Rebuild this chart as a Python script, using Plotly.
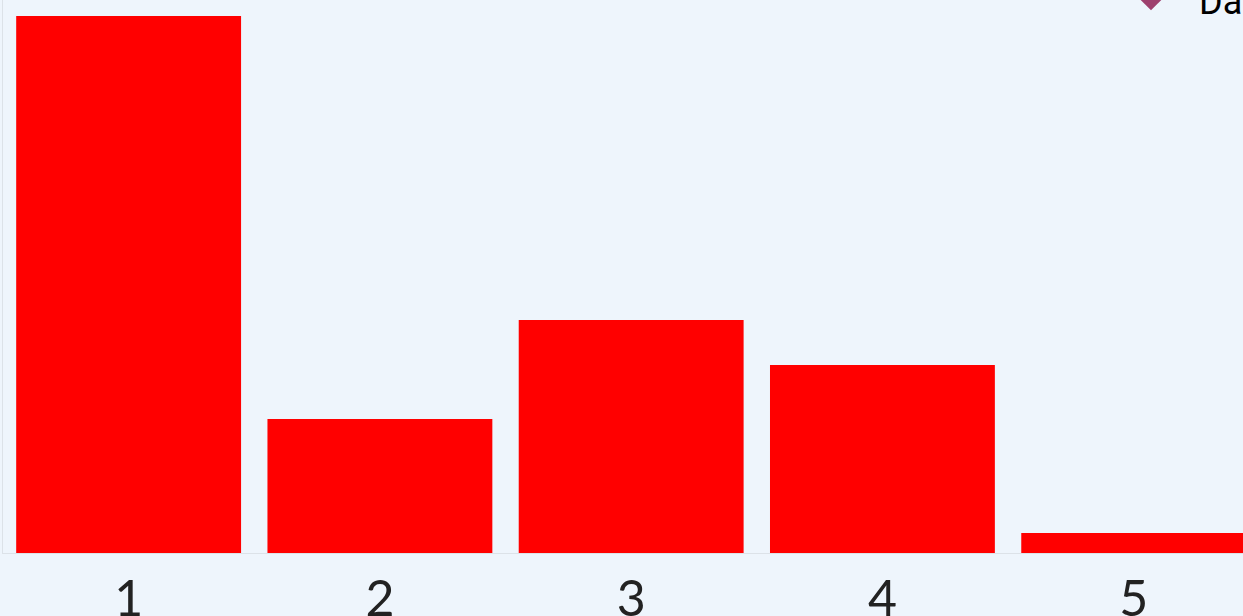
import plotly.graph_objects as go

categories = [1, 2, 3, 4, 5]
values = [53.7, 13.4, 23.3, 18.8, 2.0]
legend_name = "Data"

W, H = 1243, 616
ML, MR, MT, MB = 3, 0, 0, 63

fig = go.Figure()
fig.add_trace(go.Bar(x=categories, y=values, marker=dict(color="#FF0000", line=dict(width=0)),
                     showlegend=False))
fig.add_trace(go.Scatter(x=[None], y=[None], mode="markers", name=legend_name,
                         marker=dict(symbol="diamond", size=18, color="#9E406E"),
                         showlegend=True))

fig.update_layout(
    width=W, height=H,
    margin=dict(l=ML, r=MR, t=MT, b=MB, autoexpand=False),
    paper_bgcolor="#EEF5FC", plot_bgcolor="#EEF5FC",
    bargap=0.105,
    showlegend=True,
    legend=dict(x=(1103 - ML) / (W - ML - MR), xanchor="left", y=1, yanchor="middle",
                bgcolor="rgba(0,0,0,0)", borderwidth=0, itemwidth=86,
                font=dict(family="Roboto", size=36, color="#000000")),
    xaxis=dict(range=[0.5, 5.435], tickmode="array", tickvals=categories,
               ticktext=[str(c) for c in categories], showgrid=False, zeroline=False,
               showline=True, linecolor="#DCE2E8", linewidth=1, ticks="",
               ticklabelstandoff=2,
               tickfont=dict(family="Lato", size=50, color="#222222")),
    yaxis=dict(range=[0, 55.3], showgrid=False, zeroline=False, showticklabels=False,
               showline=True, linecolor="#DCE2E8", linewidth=1, ticks=""),
)

fig.write_html("out.html", config={"displayModeBar": False},
               post_script="document.body.style.margin='0';document.body.style.overflow='hidden';")
